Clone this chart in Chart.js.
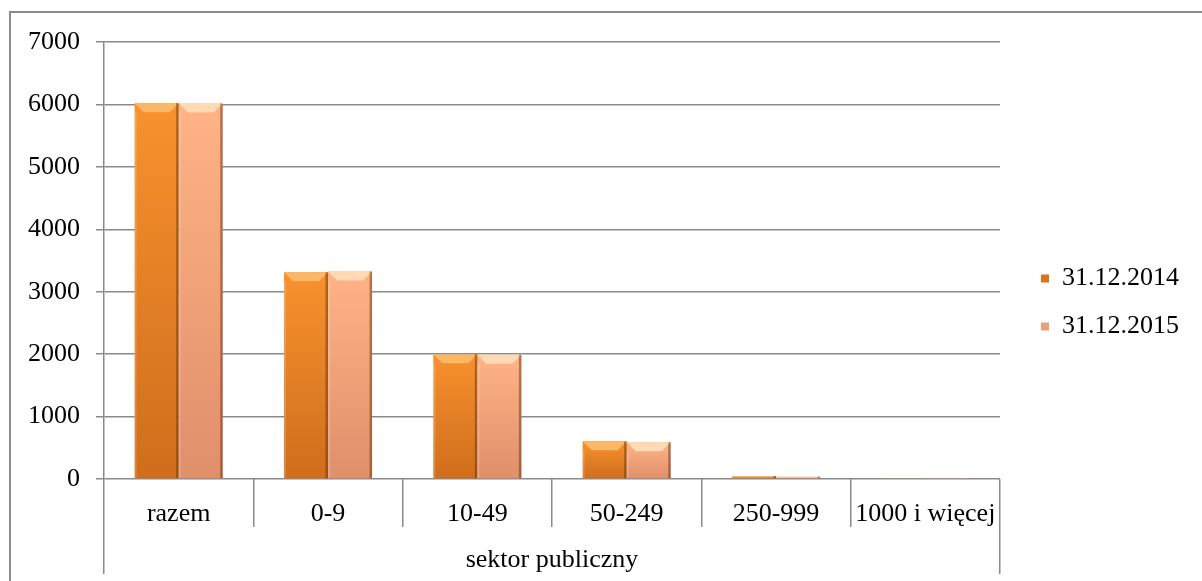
<!DOCTYPE html>
<html><head><meta charset="utf-8">
<script src="https://cdn.jsdelivr.net/npm/chart.js@4"></script>
<style>
html,body{margin:0;padding:0;background:#fff;overflow:hidden;}
#frame{position:absolute;left:9px;top:11px;width:1300px;height:700px;border-left:2px solid #8c8c8c;border-top:2px solid #8c8c8c;}
#wrap{position:absolute;left:0;top:0;width:1202px;height:581px;}
</style></head><body>
<div id="frame"></div>
<div id="wrap"><canvas id="c"></canvas></div>
<script>
const categories = ['razem', '0-9', '10-49', '50-249', '250-999', '1000 i więcej'];
const groupLabels = ['sektor publiczny'];
const seriesNames = ['31.12.2014', '31.12.2015'];
const values2014 = [6020, 3310, 2000, 603, 48, 9];
const values2015 = [6015, 3325, 1990, 587, 37, 8];
const yMin = 0, yMax = 7000, yStep = 1000;

const FONT = {family: '"Liberation Serif", "Times New Roman", serif', size: 26};
const GRID = '#8a8a8a';
const gradTop = ['#F8912E', '#FFB386'];
const gradBottom = ['#CF6D1C', '#DF8F6A'];
const bevelTop = ['#FBB766', '#FFDAB4'];
const legendColors = ['#D9731F', '#E9A07A'];

function barFill(ctx) {
  const chart = ctx.chart;
  const ds = ctx.datasetIndex;
  const y = chart.scales && chart.scales.y;
  if (!y || ctx.type !== 'data' || !ctx.parsed) return gradBottom[ds];
  const top = y.getPixelForValue(ctx.parsed.y);
  const base = y.getPixelForValue(0);
  if (!isFinite(top) || !isFinite(base) || base - top < 1) return gradTop[ds];
  const g = chart.ctx.createLinearGradient(0, top, 0, base);
  g.addColorStop(0, gradTop[ds]);
  g.addColorStop(1, gradBottom[ds]);
  return g;
}

const bevelPlugin = {
  id: 'bevel',
  afterDatasetsDraw(chart) {
    const c = chart.ctx;
    chart.data.datasets.forEach((d, di) => {
      const meta = chart.getDatasetMeta(di);
      meta.data.forEach(bar => {
        const p = bar.getProps(['x', 'y', 'width', 'base'], true);
        const h = p.base - p.y;
        if (h <= 1) return;
        const l = p.x - p.width / 2, r = p.x + p.width / 2;
        const b = Math.min(9, h / 2);
        c.save();
        c.fillStyle = bevelTop[di];
        c.beginPath();
        c.moveTo(l, p.y); c.lineTo(r, p.y); c.lineTo(r - b, p.y + b); c.lineTo(l + b, p.y + b);
        c.closePath(); c.fill();
        c.fillStyle = 'rgba(95,40,5,0.45)';
        c.fillRect(r - 2.5, p.y, 2.5, h);
        c.fillStyle = 'rgba(255,255,255,0.18)';
        c.fillRect(l, p.y + b, 2, h - b);
        c.restore();
      });
    });
  }
};

new Chart(document.getElementById('c'), {
  type: 'bar',
  data: {
    labels: categories,
    datasets: [
      {label: seriesNames[0], data: values2014, backgroundColor: barFill, borderWidth: 0},
      {label: seriesNames[1], data: values2015, backgroundColor: barFill, borderWidth: 0}
    ]
  },
  options: {
    responsive: true,
    maintainAspectRatio: false,
    animation: false,
    datasets: {bar: {categoryPercentage: 0.59, barPercentage: 1.0}},
    layout: {padding: {left: 12, top: 31, bottom: 7, right: 13}},
    plugins: {
      tooltip: {enabled: false},
      legend: {
        position: 'right',
        labels: {
          font: FONT, color: '#000', boxWidth: 8, boxHeight: 8, padding: 22,
          generateLabels: chart => chart.data.datasets.map((d, i) => ({
            text: d.label, fillStyle: legendColors[i], strokeStyle: legendColors[i], lineWidth: 0,
            hidden: !chart.isDatasetVisible(i), datasetIndex: i, fontColor: '#000'
          }))
        }
      }
    },
    scales: {
      y: {
        min: yMin, max: yMax,
        ticks: {stepSize: yStep, padding: 16, color: '#000', font: FONT, callback: v => String(v)},
        grid: {color: GRID, lineWidth: 1.5, tickLength: 8},
        border: {display: true, color: GRID, width: 1.5},
        afterFit: s => { s.paddingTop = 42; }
      },
      gap: {
        type: 'linear', position: 'right', display: true,
        grid: {display: false, drawTicks: false}, ticks: {display: false}, border: {display: false},
        afterFit: s => { s.width = 19; }
      },
      x: {
        offset: true,
        grid: {offset: true, drawOnChartArea: false, tickLength: 48, color: GRID, lineWidth: 1.5},
        border: {display: false},
        ticks: {padding: -28, color: '#000', font: FONT, maxRotation: 0, autoSkip: false},
        afterFit: s => { s.height = 48; }
      },
      x2: {
        type: 'category', labels: groupLabels, position: 'bottom', offset: true,
        grid: {offset: true, drawOnChartArea: false, tickLength: 47, color: GRID, lineWidth: 1.5},
        border: {display: false},
        ticks: {padding: -29, color: '#000', font: FONT, maxRotation: 0, autoSkip: false},
        afterFit: s => { s.height = 47; }
      }
    }
  },
  plugins: [bevelPlugin]
});
</script>
</body></html>
